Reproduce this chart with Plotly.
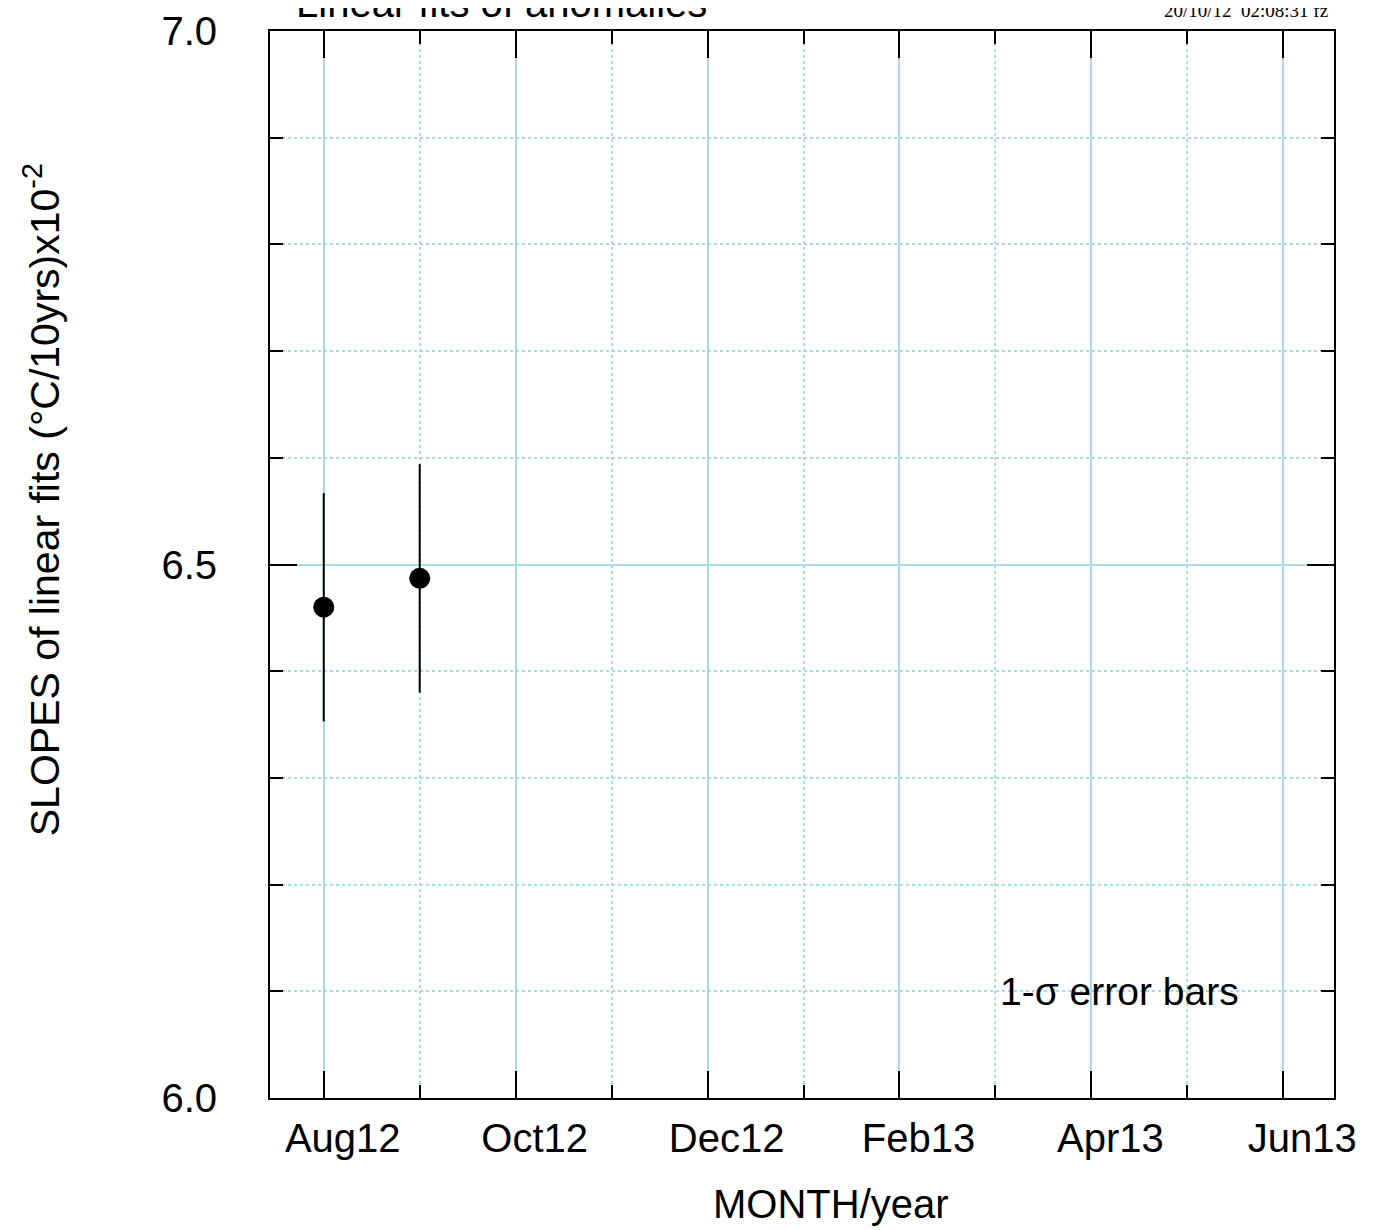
import plotly.graph_objects as go

# ---- data ----
months = ["Aug12", "Sep12", "Oct12", "Nov12", "Dec12", "Jan13", "Feb13",
          "Mar13", "Apr13", "May13", "Jun13"]
point_months = ["Aug12", "Sep12"]
slopes = [6.460, 6.487]
errors = [0.107, 0.107]

major_month_labels = ["Aug12", "Oct12", "Dec12", "Feb13", "Apr13", "Jun13"]
y_major = [6.0, 6.5, 7.0]
y_major_text = ["6.0", "6.5", "7.0"]
y_minor = [6.1, 6.2, 6.3, 6.4, 6.6, 6.7, 6.8, 6.9]

title_text = "Linear fits of anomalies"
stamp_text = "20/10/12  02:08:31 fz"
note_text = "1-σ error bars"
xtitle = "MONTH/year"
ytitle = "SLOPES of linear fits (°C/10yrs)x10<sup>-2</sup>"

idx = {m: i for i, m in enumerate(months)}
px = [idx[m] for m in point_months]
x_major = [idx[m] for m in major_month_labels]
x_minor = [i for i in range(len(months)) if i not in x_major]

FONT = "Liberation Sans, Arial, sans-serif"
GRID = "#add8e6"

fig = go.Figure()
fig.add_trace(go.Scatter(
    x=px, y=slopes, mode="markers",
    marker=dict(size=21, color="black"),
    error_y=dict(type="data", array=errors, visible=True,
                 color="black", thickness=2, width=0),
    showlegend=False, cliponaxis=False,
))

axis_common = dict(
    showline=True, linecolor="black", linewidth=2, mirror="ticks",
    ticks="inside", tickcolor="black", tickwidth=2, ticklen=27,
    showgrid=True, gridcolor=GRID, gridwidth=2,
    zeroline=False, automargin=False,
    tickfont=dict(family=FONT, size=40, color="black"),
)

fig.update_xaxes(
    range=[-0.56, 10.528],
    tickmode="array", tickvals=x_major, ticktext=major_month_labels,
    ticklabelshift=19, ticklabelstandoff=4,
    minor=dict(tickmode="array", tickvals=x_minor, ticks="inside",
               ticklen=13, tickwidth=2, tickcolor="black",
               showgrid=True, gridcolor=GRID, gridwidth=2, griddash="dot"),
    **axis_common,
)
fig.update_yaxes(
    range=[6.0, 7.0],
    tickmode="array", tickvals=y_major, ticktext=y_major_text,
    ticklabelstandoff=43,
    minor=dict(tickmode="array", tickvals=y_minor, ticks="inside",
               ticklen=13, tickwidth=2, tickcolor="black",
               showgrid=True, gridcolor=GRID, gridwidth=2, griddash="dot"),
    **axis_common,
)

fig.add_annotation(text=title_text, xref="paper", yref="paper",
                   x=0.0226, y=1.0266, xanchor="left", yanchor="middle",
                   showarrow=False, font=dict(family=FONT, size=40, color="black"))
fig.add_annotation(text=stamp_text, xref="paper", yref="paper",
                   x=0.9958, y=1.0196, xanchor="right", yanchor="middle",
                   showarrow=False,
                   font=dict(family="Liberation Serif, Times New Roman, serif",
                             size=19, color="black"))
fig.add_annotation(text=note_text, xref="x", yref="y",
                   x=7.028, y=6.1, xanchor="left", yanchor="middle",
                   showarrow=False, font=dict(family=FONT, size=39, color="black"))
fig.add_annotation(text=xtitle, xref="paper", yref="paper",
                   x=0.527, y=-0.099, xanchor="center", yanchor="middle",
                   showarrow=False, font=dict(family=FONT, size=40, color="black"))
fig.add_annotation(text=ytitle, xref="paper", yref="paper",
                   x=-0.2142, y=0.5603, xanchor="center", yanchor="middle",
                   textangle=-90, showarrow=False,
                   font=dict(family=FONT, size=41, color="black"))

fig.update_layout(
    width=1376, height=1230,
    margin=dict(l=262, r=50, t=22.5, b=139.7),
    paper_bgcolor="white", plot_bgcolor="white",
    showlegend=False,
)

fig.write_html("out.html")
